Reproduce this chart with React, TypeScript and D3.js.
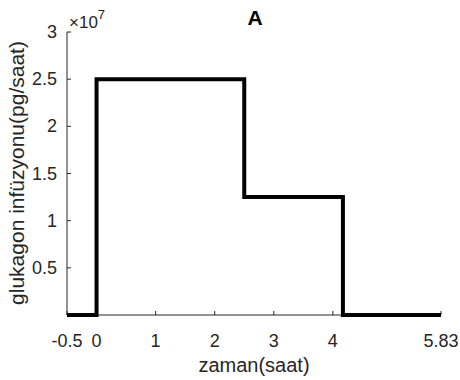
import React from "react";
import * as d3 from "d3";

// Infusion schedule: step changes at these times (hours)
const stepTimes = [-0.5, 0, 2.5, 4.17, 5.83];
// Infusion rate (pg/hour) holding from each time until the next
const stepRates = [0, 2.5e7, 1.25e7, 0, 0];
const xTicks = [-0.5, 0, 1, 2, 3, 4, 5.83];
const yTicks = [0.5, 1, 1.5, 2, 2.5, 3];
const exponent = 7;

const W = 460;
const H = 380;
const margin = { left: 67, right: 19, top: 32, bottom: 65 };
const font = "Liberation Sans, Arial, sans-serif";
const textColor = "#262626";

export default function App() {
  const x = d3
    .scaleLinear()
    .domain([-0.5, 5.83])
    .range([margin.left, W - margin.right]);
  const y = d3
    .scaleLinear()
    .domain([0, 3])
    .range([H - margin.bottom, margin.top]);
  const scale = Math.pow(10, exponent);

  const data = stepTimes.map((t, i) => ({ t, v: stepRates[i] / scale }));
  const line = d3
    .line<{ t: number; v: number }>()
    .x((d) => x(d.t))
    .y((d) => y(d.v))
    .curve(d3.curveStepAfter);

  const x0 = x(-0.5);
  const y0 = y(0);

  return (
    <svg
      width={W}
      height={H}
      style={{ position: "absolute", left: 0, top: 0, background: "#fff" }}
      fontFamily={font}
    >
      {/* axes */}
      <line x1={x0} x2={x(5.83)} y1={y0} y2={y0} stroke={textColor} strokeWidth={1} />
      <line x1={x0} x2={x0} y1={y0} y2={y(3)} stroke={textColor} strokeWidth={1} />

      {xTicks.map((t) => (
        <g key={"x" + t}>
          <line x1={x(t)} x2={x(t)} y1={y0} y2={y0 - 4} stroke={textColor} />
          <text x={x(t)} y={y0 + 32} textAnchor="middle" fontSize={18} fill={textColor}>
            {t}
          </text>
        </g>
      ))}

      {yTicks.map((t) => (
        <g key={"y" + t}>
          <line x1={x0} x2={x0 + 4} y1={y(t)} y2={y(t)} stroke={textColor} />
          <text x={x0 - 10} y={y(t) + 6} textAnchor="end" fontSize={18} fill={textColor}>
            {t}
          </text>
        </g>
      ))}

      {/* exponent marker */}
      <text x={x0 + 2} y={y(3) - 4} fontSize={17} fill={textColor}>
        ×10
        <tspan fontSize={13} dy={-9}>
          {exponent}
        </tspan>
      </text>

      {/* infusion step line */}
      <path d={line(data) ?? ""} fill="none" stroke="#000" strokeWidth={4} strokeLinejoin="miter" />

      {/* title and labels */}
      <text x={255} y={25} textAnchor="middle" fontSize={21} fontWeight="bold" fill="#000">
        A
      </text>
      <text x={254} y={372} textAnchor="middle" fontSize={20} fill={textColor}>
        zaman(saat)
      </text>
      <text
        transform="translate(24, 173) rotate(-90)"
        textAnchor="middle"
        fontSize={21}
        fill={textColor}
      >
        glukagon infüzyonu(pg/saat)
      </text>
    </svg>
  );
}
